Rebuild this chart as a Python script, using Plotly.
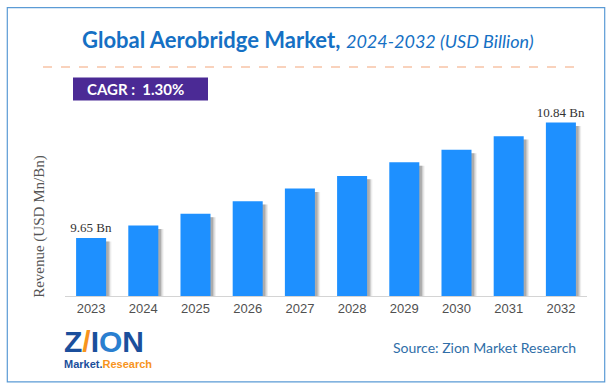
import plotly.graph_objects as go

years = ["2023", "2024", "2025", "2026", "2027", "2028", "2029", "2030", "2031", "2032"]
revenue = [9.65, 9.78, 9.90, 10.03, 10.16, 10.29, 10.43, 10.56, 10.70, 10.84]
labels = ["9.65 Bn", "", "", "", "", "", "", "", "", "10.84 Bn"]

W, H = 614, 392
L, R, T, B = 65, 27, 107.4, 96
PW, PH = W - L - R, H - T - B


def px(x):
    return (x - L) / PW


def py(y):
    return (H - B - y) / PH


fig = go.Figure()

bar_w = 0.575
# soft shadow layers to the right of each bar
for dx, op in [(0.10, 0.10), (0.075, 0.18), (0.05, 0.28)]:
    fig.add_trace(go.Bar(
        x=years, y=[v - 0.035 for v in revenue],
        width=bar_w, offset=-bar_w / 2 + dx,
        marker=dict(color=f"rgba(80,80,80,{op})", line=dict(width=0)),
        hoverinfo="skip", showlegend=False,
    ))

fig.add_trace(go.Bar(
    x=years, y=revenue, width=bar_w, offset=-bar_w / 2,
    marker=dict(color="#1E90FF", line=dict(width=0)),
    text=labels, textposition="outside", cliponaxis=False, constraintext="none",
    textfont=dict(family="Liberation Serif, DejaVu Serif, serif", size=13, color="#333333"),
    showlegend=False,
))

fig.update_layout(
    width=W, height=H, autosize=False,
    margin=dict(l=L, r=R, t=T, b=B, pad=0),
    paper_bgcolor="white", plot_bgcolor="white",
    barmode="overlay", bargap=0.425,
    xaxis=dict(
        type="category", showline=True, linecolor="#d4d4d4", linewidth=1,
        showgrid=False, ticks="", zeroline=False,
        tickfont=dict(family="Liberation Sans, Arial, sans-serif", size=13, color="#505050"),
    ),
    yaxis=dict(range=[9.054, 11.0], visible=False, showgrid=False, zeroline=False),
    shapes=[
        dict(type="rect", xref="paper", yref="paper",
             x0=px(7.3), x1=px(604.7), y0=py(381.7), y1=py(8.3),
             line=dict(color="#5b9bd5", width=1.2), fillcolor="rgba(0,0,0,0)", layer="below"),
        dict(type="line", xref="paper", yref="paper",
             x0=px(43), x1=px(579), y0=py(67.5), y1=py(67.5),
             line=dict(color="#f4a57a", width=1.2, dash="dash")),
        dict(type="rect", xref="paper", yref="paper",
             x0=px(73), x1=px(208), y0=py(101), y1=py(78),
             line=dict(width=0), fillcolor="#4b2a95"),
    ],
    annotations=[
        dict(xref="paper", yref="paper", x=px(307.5), y=py(40), xanchor="center", yanchor="middle",
             showarrow=False,
             text="<b>Global Aerobridge Market,</b> <i><span style='font-size:18px'>2024-2032 (USD Billion)</span></i>",
             font=dict(family="Lato, Open Sans, sans-serif", size=22, color="#1570c4")),
        dict(xref="paper", yref="paper", x=px(85), y=py(89.5), xanchor="left", yanchor="middle",
             showarrow=False, text="<b>CAGR :  1.30%</b>",
             font=dict(family="Lato, Open Sans, sans-serif", size=15, color="white")),
        dict(xref="paper", yref="paper", x=px(40), y=py(227), xanchor="center", yanchor="middle",
             showarrow=False, textangle=-90, text="Revenue (USD Mn/Bn)",
             font=dict(family="Liberation Serif, DejaVu Serif, serif", size=15, color="#555555")),
        dict(xref="paper", yref="paper", x=px(578), y=py(347), xanchor="right", yanchor="middle",
             showarrow=False, text="Source: Zion Market Research",
             font=dict(family="Lato, Open Sans, sans-serif", size=14, color="#2f6ea8")),
        dict(xref="paper", yref="paper", x=px(62), y=py(341), xanchor="left", yanchor="middle",
             showarrow=False,
             text="<b>Z<span style='color:#f7941d'>/</span>I<span style='color:#2a7fd0'>O</span>N</b>",
             font=dict(family="Liberation Sans, Arial, sans-serif", size=30, color="#1b4f9c")),
        dict(xref="paper", yref="paper", x=px(62), y=py(364), xanchor="left", yanchor="middle",
             showarrow=False,
             text="<b>Market.<span style='color:#f7941d'>Research</span></b>",
             font=dict(family="Liberation Sans, Arial, sans-serif", size=11, color="#1b4f9c")),
    ],
)

fig.write_html("out.html", config={"displayModeBar": False},
               post_script="document.body.style.margin='0px';")
